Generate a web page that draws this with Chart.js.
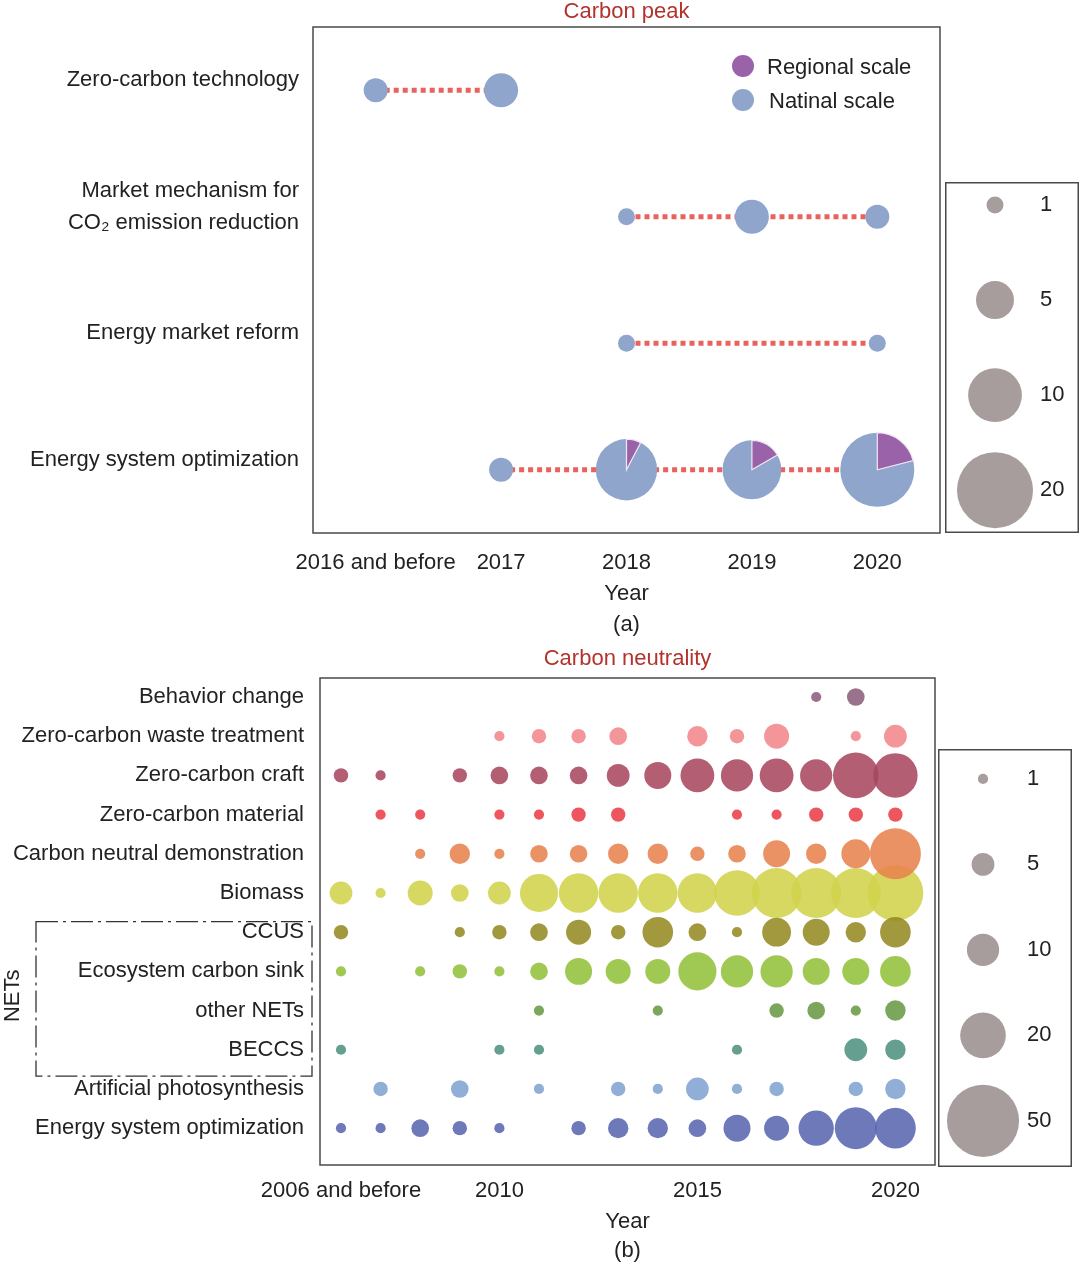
<!DOCTYPE html>
<html>
<head>
<meta charset="utf-8">
<script src="https://cdn.jsdelivr.net/npm/chart.js@4.4.1/dist/chart.umd.min.js"></script>
<style>
  body { margin: 0; background: #fff; width: 1080px; height: 1267px; position: relative; overflow: hidden; }
  canvas { position: absolute; }
</style>
</head>
<body>
<canvas id="peak" width="942" height="640" style="left:0px;top:0px"></canvas>
<canvas id="peakKey" width="134" height="351" style="left:945px;top:182px"></canvas>
<canvas id="neutral" width="937" height="620" style="left:0px;top:647px"></canvas>
<canvas id="neutralKey" width="134" height="418" style="left:938px;top:749px"></canvas>
<script>
// ---------- (a) carbon peak ----------
var peakYears = ['2016 and before', '2017', '2018', '2019', '2020'];
var peakTopics = ['Zero-carbon technology', ['Market mechanism for', 'CO\u2082 emission reduction'],
                  'Energy market reform', 'Energy system optimization'];
var zeroCarbonTech     = [2, 4, null, null, null];
var marketMechanism    = [null, null, 1, 4, 2];
var energyMarketReform = [null, null, 1, null, 1];
var energySysOptPeak   = [null, 2, 13, 12, 19];
var energySysOptRegion = [null, 0, 1, 2, 4];   // regional part of the pies
var peakKeyValues = [1, 5, 10, 20];

// ---------- (b) carbon neutrality ----------
var neutralYears = ['2006 and before', '2007', '2008', '2009', '2010', '2011', '2012', '2013',
                    '2014', '2015', '2016', '2017', '2018', '2019', '2020'];
var neutralTickYears = ['2006 and before', '2010', '2015', '2020'];
var neutralTopics = ['Behavior change', 'Zero-carbon waste treatment', 'Zero-carbon craft',
                     'Zero-carbon material', 'Carbon neutral demonstration', 'Biomass', 'CCUS',
                     'Ecosystem carbon sink', 'other NETs', 'BECCS', 'Artificial photosynthesis',
                     'Energy system optimization'];
var behaviorChange   = [null, null, null, null, null, null, null, null, null, null, null, null, 1, 3, null];
var wasteTreatment   = [null, null, null, null, 1, 2, 2, 3, null, 4, 2, 6, null, 1, 5];
var zeroCarbonCraft  = [2, 1, null, 2, 3, 3, 3, 5, 7, 11, 10, 11, 10, 20, 19];
var zeroCarbonMat    = [null, 1, 1, null, 1, 1, 2, 2, null, null, 1, 1, 2, 2, 2];
var demonstration    = [null, null, 1, 4, 1, 3, 3, 4, 4, 2, 3, 7, 4, 8, 25];
var biomass          = [5, 1, 6, 3, 5, 14, 15, 15, 15, 15, 20, 24, 24, 24, 30];
var ccus             = [2, null, null, 1, 2, 3, 6, 2, 9, 3, 1, 8, 7, 4, 9];
var ecosystemSink    = [1, null, 1, 2, 1, 3, 7, 6, 6, 14, 10, 10, 7, 7, 9];
var otherNETs        = [null, null, null, null, null, 1, null, null, 1, null, null, 2, 3, 1, 4];
var beccs            = [1, null, null, null, 1, 1, null, null, null, null, 1, null, null, 5, 4];
var artificialPhoto  = [null, 2, null, 3, null, 1, null, 2, 1, 5, 1, 2, null, 2, 4];
var energySysOptNeut = [1, 1, 3, 2, 1, null, 2, 4, 4, 3, 7, 6, 12, 17, 16];
var neutralKeyValues = [1, 5, 10, 20, 50];

var peakRows = [zeroCarbonTech, marketMechanism, energyMarketReform, energySysOptPeak];
var peakRegional = [null, null, null, energySysOptRegion];
var neutralRows = [behaviorChange, wasteTreatment, zeroCarbonCraft, zeroCarbonMat, demonstration,
                   biomass, ccus, ecosystemSink, otherNETs, beccs, artificialPhoto, energySysOptNeut];

var rowColors = ['#8c5e7c', '#f2878b', '#a84860', '#ea3f48', '#e8834f', '#d2d34c',
                 '#958a22', '#92c13a', '#6a9a45', '#4e9280', '#82a4d0', '#5a66b0'];
var nationalColor = '#8fa5cc';
var regionalColor = '#9a62a8';
var keyColor = '#a89d9d';
var FONT = '"Liberation Sans", Arial, sans-serif';

Chart.defaults.font.family = FONT;
Chart.defaults.font.size = 22;
Chart.defaults.color = '#222';

function peakRadius(v) { return 8.5 * Math.sqrt(v); }
function neutralRadius(v) { return 5.1 * Math.sqrt(v); }

// box around the plot (or around the whole canvas for the size keys)
var frame = {
  id: 'frame',
  afterDraw: function (chart, args, opts) {
    var ctx = chart.ctx, a = chart.chartArea;
    ctx.save();
    ctx.strokeStyle = '#4a4a4a';
    ctx.lineWidth = 1.5;
    if (opts.whole) ctx.strokeRect(0.75, 0.75, chart.width - 1.5, chart.height - 1.5);
    else ctx.strokeRect(a.left, a.top, a.right - a.left, a.bottom - a.top);
    ctx.restore();
  }
};

// regional share drawn as a pie wedge on top of the bubble
var wedges = {
  id: 'wedges',
  afterDatasetsDraw: function (chart) {
    var ctx = chart.ctx;
    chart.data.datasets.forEach(function (ds, i) {
      if (ds.type !== 'bubble') return;
      var meta = chart.getDatasetMeta(i);
      ds.data.forEach(function (d, j) {
        if (!d.reg) return;
        var el = meta.data[j];
        var r = el.options.radius;
        var a0 = -Math.PI / 2, a1 = a0 + 2 * Math.PI * d.reg / d.v;
        ctx.save();
        ctx.beginPath();
        ctx.moveTo(el.x, el.y);
        ctx.arc(el.x, el.y, r, a0, a1);
        ctx.closePath();
        ctx.fillStyle = regionalColor;
        ctx.fill();
        ctx.strokeStyle = '#f1e8f3';
        ctx.lineWidth = 1.2;
        ctx.stroke();
        ctx.restore();
      });
    });
  }
};

var scaleLegend = {
  id: 'scaleLegend',
  afterDraw: function (chart) {
    var ctx = chart.ctx, a = chart.chartArea;
    var items = [['Regional scale', regionalColor], ['Natinal scale', nationalColor]];
    ctx.save();
    ctx.font = '22px ' + FONT;
    ctx.textBaseline = 'middle';
    items.forEach(function (it, k) {
      var y = a.top + 39 + k * 34;
      ctx.beginPath();
      ctx.arc(a.right - 197, y, 11, 0, 2 * Math.PI);
      ctx.fillStyle = it[1];
      ctx.fill();
      ctx.fillStyle = '#222';
      ctx.fillText(it[0], a.right - 173 + k * 2, y + 2);
    });
    ctx.restore();
  }
};

var netsGroup = {
  id: 'netsGroup',
  afterDraw: function (chart) {
    var ctx = chart.ctx, y = chart.scales.y;
    var first = neutralTopics.indexOf('CCUS'), last = neutralTopics.indexOf('BECCS');
    var top = y.getPixelForValue(first - 0.27), bottom = y.getPixelForValue(last + 0.67);
    var left = 36, right = chart.chartArea.left - 8;
    ctx.save();
    ctx.strokeStyle = '#333';
    ctx.lineWidth = 1.3;
    ctx.setLineDash([22, 5, 3, 5]);
    ctx.strokeRect(left, top, right - left, bottom - top);
    ctx.setLineDash([]);
    ctx.translate(13, (top + bottom) / 2 - 3);
    ctx.rotate(-Math.PI / 2);
    ctx.font = '22px ' + FONT;
    ctx.textAlign = 'center';
    ctx.textBaseline = 'middle';
    ctx.fillStyle = '#222';
    ctx.fillText('NETs', 0, 0);
    ctx.restore();
  }
};

function noPad(s) { s.paddingTop = 0; s.paddingBottom = 0; s.paddingLeft = 0; s.paddingRight = 0; }
var noGrid = {display: false, drawTicks: false};

// ---------- chart (a) ----------
var peakLines = peakRows.map(function (row, r) {
  var pts = [];
  row.forEach(function (v, i) { if (v != null) pts.push({x: i, y: r}); });
  return {
    type: 'line', data: pts, order: 2,
    borderColor: '#e8625e', borderWidth: 5, borderDash: [5, 4],
    pointRadius: 0, fill: false, tension: 0
  };
});
var peakBubbles = [];
peakRows.forEach(function (row, r) {
  row.forEach(function (v, i) {
    if (v == null) return;
    var reg = peakRegional[r] ? peakRegional[r][i] : 0;
    peakBubbles.push({x: i, y: r, v: v, reg: reg});
  });
});

new Chart(document.getElementById('peak'), {
  type: 'bubble',
  data: {
    datasets: peakLines.concat([{
      type: 'bubble', data: peakBubbles, order: 1,
      backgroundColor: nationalColor, borderWidth: 0,
      radius: function (c) { return peakRadius(c.raw.v); }
    }])
  },
  options: {
    responsive: false, animation: false, events: [],
    layout: {autoPadding: false, padding: {left: 0, right: 2, top: 0, bottom: 0}},
    plugins: {legend: {display: false}, tooltip: {enabled: false}, frame: {}},
    scales: {
      x: {
        type: 'linear', position: 'bottom', min: -0.5, max: 4.5,
        grid: noGrid, border: {display: false},
        afterBuildTicks: function (s) { s.ticks = peakYears.map(function (_, i) { return {value: i}; }); },
        afterFit: function (s) { s.height = 107; noPad(s); },
        ticks: {autoSkip: false, maxRotation: 0, padding: 17, callback: function (v) { return peakYears[v]; }},
        title: {display: true, text: ['Year', '(a)'], font: {size: 22, lineHeight: 1.41}, padding: {top: 0, bottom: 0}}
      },
      xTop: {
        type: 'linear', axis: 'x', position: 'top', min: 0, max: 1,
        grid: noGrid, border: {display: false}, ticks: {display: false},
        afterFit: function (s) { s.height = 27; noPad(s); },
        title: {display: true, text: 'Carbon peak', color: '#b3322c', font: {size: 22, lineHeight: 1.1}, padding: {top: 0, bottom: 0}}
      },
      y: {
        type: 'linear', reverse: true, min: -0.5, max: 3.5,
        grid: noGrid, border: {display: false},
        afterBuildTicks: function (s) { s.ticks = peakTopics.map(function (_, i) { return {value: i}; }); },
        afterFit: function (s) { s.width = 313; noPad(s); },
        ticks: {autoSkip: false, padding: 14, labelOffset: -10, font: {size: 22, lineHeight: 1.45},
                callback: function (v) { return peakTopics[v]; }}
      }
    }
  },
  plugins: [frame, wedges, scaleLegend]
});

// ---------- chart (b) ----------
var neutralSets = neutralRows.map(function (row, r) {
  var pts = [];
  row.forEach(function (v, i) { if (v != null) pts.push({x: i, y: r, v: v}); });
  return {
    type: 'bubble', data: pts,
    order: neutralTopics[r] === 'Biomass' ? 2 : 1,
    backgroundColor: Chart.helpers.color(rowColors[r]).alpha(0.88).rgbString(),
    borderWidth: 0,
    radius: function (c) { return neutralRadius(c.raw.v); }
  };
});

new Chart(document.getElementById('neutral'), {
  type: 'bubble',
  data: {datasets: neutralSets},
  options: {
    responsive: false, animation: false, events: [],
    layout: {autoPadding: false, padding: {left: 0, right: 2, top: 0, bottom: 0}},
    plugins: {legend: {display: false}, tooltip: {enabled: false}, frame: {}},
    scales: {
      x: {
        type: 'linear', position: 'bottom', min: -0.53, max: 15.0,
        grid: noGrid, border: {display: false},
        afterBuildTicks: function (s) {
          s.ticks = neutralTickYears.map(function (y) { return {value: neutralYears.indexOf(y)}; });
        },
        afterFit: function (s) { s.height = 102; noPad(s); },
        ticks: {autoSkip: false, maxRotation: 0, padding: 13, callback: function (v) { return neutralYears[v]; }},
        title: {display: true, text: ['Year', '(b)'], font: {size: 22, lineHeight: 1.318}, padding: {top: 0, bottom: 1.5}}
      },
      xTop: {
        type: 'linear', axis: 'x', position: 'top', min: 0, max: 1,
        grid: noGrid, border: {display: false}, ticks: {display: false},
        afterFit: function (s) { s.height = 31; noPad(s); },
        title: {display: true, text: 'Carbon neutrality', color: '#b3322c', font: {size: 22, lineHeight: 1.1}, padding: {top: 0, bottom: 0}}
      },
      y: {
        type: 'linear', reverse: true, min: -0.485, max: 11.94,
        grid: noGrid, border: {display: false},
        afterBuildTicks: function (s) { s.ticks = neutralTopics.map(function (_, i) { return {value: i}; }); },
        afterFit: function (s) { s.width = 320; noPad(s); },
        ticks: {autoSkip: false, padding: 16, callback: function (v) { return neutralTopics[v]; }}
      }
    }
  },
  plugins: [frame, netsGroup]
});

// ---------- size keys ----------
function sizeKey(id, values, radiusFn, xMax, yMin, yMax, axisWidth) {
  new Chart(document.getElementById(id), {
    type: 'bubble',
    data: {datasets: [{
      data: values.map(function (v, i) { return {x: 0, y: i, v: v}; }),
      backgroundColor: keyColor, borderWidth: 0,
      radius: function (c) { return radiusFn(c.raw.v); }
    }]},
    options: {
      responsive: false, animation: false, events: [],
      layout: {autoPadding: false, padding: 0},
      plugins: {legend: {display: false}, tooltip: {enabled: false}, frame: {whole: true}},
      scales: {
        x: {type: 'linear', min: -1, max: xMax, display: false},
        y: {
          type: 'linear', position: 'right', reverse: true, min: yMin, max: yMax,
          grid: noGrid, border: {display: false},
          afterBuildTicks: function (s) { s.ticks = values.map(function (_, i) { return {value: i}; }); },
          afterFit: function (s) { s.width = axisWidth; noPad(s); },
          ticks: {autoSkip: false, padding: 6, callback: function (v) { return values[v]; }}
        }
      }
    },
    plugins: [frame]
  });
}
sizeKey('peakKey', peakKeyValues, peakRadius, 0.78, -0.242, 3.45, 45);
sizeKey('neutralKey', neutralKeyValues, neutralRadius, 0.844, -0.35, 4.54, 51);
</script>
</body>
</html>
